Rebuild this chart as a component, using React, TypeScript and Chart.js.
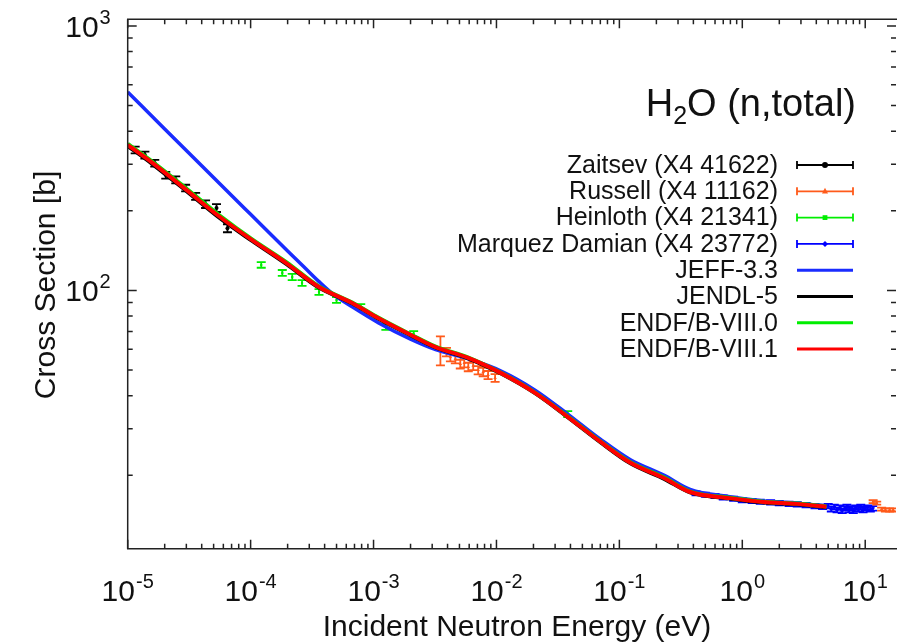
import React, { useEffect, useRef } from "react";
import { Chart, registerables } from "chart.js";

Chart.register(...registerables);

// ---- Evaluated libraries: incident energy (eV) and total cross section (b) ----
const evalEnergy = [1e-5, 1.6e-5, 3.0e-5, 5.6e-5, 1.03e-4, 1.95e-4, 3.6e-4, 6.7e-4, 1.1e-3, 2.0e-3, 3.2e-3, 5.9e-3, 1.09e-2, 2.06e-2, 3.8e-2, 7.0e-2, 0.123, 0.232, 0.376, 0.79, 1.49, 2.77, 4.83];
const endf81Sigma = [355, 303, 240, 190, 155, 127, 103, 89.7, 78.5, 68, 61.1, 55.6, 48.7, 41.0, 33.3, 26.8, 22.3, 19.5, 17.3, 16.4, 15.85, 15.6, 15.2];
const endf80Sigma = [358, 306, 243, 192, 156, 128, 103.5, 90, 78.8, 68.2, 61.3, 55.8, 48.8, 41.1, 33.4, 26.9, 22.4, 19.6, 17.35, 16.45, 15.9, 15.65, 15.25];
const jendl5Sigma = [352, 300, 238, 188, 154, 126, 102.5, 89.4, 78.2, 67.8, 60.9, 55.4, 48.5, 40.9, 33.2, 26.7, 22.2, 19.4, 17.25, 16.35, 15.8, 15.55, 15.15];

const jeffEnergy = [1e-5, 2e-5, 4e-5, 1e-4, 2e-4, 2.8e-4, 3.6e-4, 4.8e-4, 6.7e-4, 1.1e-3, 2.0e-3, 3.2e-3, 5.9e-3, 1.09e-2, 2.06e-2, 3.8e-2, 7.0e-2, 0.123, 0.232, 0.376, 0.79, 1.49, 2.77, 4.83];
const jeffSigma = [563, 408, 296, 194, 141, 121, 108, 96, 86.7, 75.4, 65.5, 59.8, 55.2, 49.6, 42.0, 34.1, 27.4, 22.9, 20.0, 17.7, 16.6, 16.0, 15.7, 15.3];

// ---- EXFOR measurements ----
const zaitsevEnergy = [1.15e-5, 1.38e-5, 1.66e-5, 2.04e-5, 2.46e-5, 2.96e-5, 3.57e-5, 4.30e-5, 5.28e-5, 6.48e-5];
const zaitsevSigma = [340, 325, 303, 273, 262, 244, 227, 212, 205, 172];
const zaitsevError = [10, 10, 9, 8, 8, 7, 7, 7, 7, 6];

const russellEnergy = [3.5e-3, 3.92e-3, 4.22e-3, 4.63e-3, 5.08e-3, 5.47e-3, 5.9e-3, 6.47e-3, 7.1e-3, 7.8e-3, 8.55e-3, 9.75e-3, 11.6, 12.4, 13.6, 14.6, 15.8, 16.9];
const russellSigma = [59.6, 58.5, 56.1, 55.1, 52.7, 53.2, 51.4, 51.9, 50.0, 49.2, 47.9, 46.7, 15.9, 15.7, 14.9, 14.8, 14.8, 14.8];
const russellError = [7.5, 2.2, 2.2, 2.1, 2.0, 2.0, 1.9, 1.9, 1.8, 1.8, 1.7, 1.6, 0.2, 0.2, 0.2, 0.2, 0.2, 0.2];

const heinlothEnergy = [1.22e-4, 1.81e-4, 2.18e-4, 2.62e-4, 3.6e-4, 5.0e-4, 7.87e-4, 1.26e-3, 2.12e-3, 3.8e-2];
const heinlothSigma = [124.9, 116.5, 112.5, 106.7, 98.7, 92.0, 86.6, 72.8, 68.5, 34.1];
const heinlothError = [3, 3, 3, 2.7, 2.5, 2.3, 2.2, 1.8, 1.7, 0.9];

const marquezEnergy = [0.42, 0.5, 0.6, 0.7, 0.85, 1.0, 1.2, 1.4, 1.7, 2.0, 2.4, 2.8, 3.3, 3.9, 4.5, 5.0, 5.3, 5.6, 5.9, 6.2, 6.5, 6.8, 7.1, 7.4, 7.7, 8.0, 8.4, 8.8, 9.2, 9.6, 10.0, 10.5, 11.0, 11.5];
const marquezSigma = [17.1, 16.9, 16.7, 16.5, 16.3, 16.1, 16.0, 15.9, 15.8, 15.7, 15.6, 15.55, 15.45, 15.3, 15.2, 15.3, 14.9, 15.2, 14.8, 15.1, 14.7, 15.0, 15.2, 14.8, 15.0, 14.7, 15.1, 14.9, 15.2, 14.8, 15.0, 15.1, 14.9, 15.0];
const marquezError = [0.3, 0.3, 0.3, 0.3, 0.3, 0.3, 0.3, 0.3, 0.3, 0.3, 0.3, 0.3, 0.3, 0.3, 0.3, 0.3, 0.3, 0.3, 0.3, 0.3, 0.3, 0.3, 0.3, 0.3, 0.3, 0.3, 0.3, 0.3, 0.3, 0.3, 0.3, 0.3, 0.3, 0.3];

// ---- Axis labels ----
const xTickExponents = [-5, -4, -3, -2, -1, 0, 1];
const yTickExponents = [2, 3];
const xTitle = "Incident Neutron Energy (eV)";
const yTitle = "Cross Section [b]";

const FONT = '"Liberation Sans", Arial, Helvetica, sans-serif';

type LegendItem = { label: string; color: string; kind: "err" | "line"; marker?: string };
const legendItems: LegendItem[] = [
  { label: "Zaitsev (X4 41622)", color: "#000000", kind: "err", marker: "circle" },
  { label: "Russell (X4 11162)", color: "#ff5a1a", kind: "err", marker: "triangle" },
  { label: "Heinloth (X4 21341)", color: "#00ee00", kind: "err", marker: "rect" },
  { label: "Marquez Damian (X4 23772)", color: "#0000ff", kind: "err", marker: "rectRot" },
  { label: "JEFF-3.3", color: "#1a2cff", kind: "line" },
  { label: "JENDL-5", color: "#000000", kind: "line" },
  { label: "ENDF/B-VIII.0", color: "#00ee00", kind: "line" },
  { label: "ENDF/B-VIII.1", color: "#ff0000", kind: "line" },
];

const pts = (xs: number[], ys: number[]) => xs.map((x, i) => ({ x, y: ys[i] }));

function drawPower(ctx: CanvasRenderingContext2D, exp: string, x: number, baseline: number, align: "center" | "right") {
  const baseFont = `30px ${FONT}`;
  const expFont = `20px ${FONT}`;
  ctx.font = baseFont;
  const wb = ctx.measureText("10").width;
  ctx.font = expFont;
  const we = ctx.measureText(exp).width;
  const total = wb + 1 + we;
  const x0 = align === "center" ? x - total / 2 : x - total;
  ctx.textAlign = "left";
  ctx.textBaseline = "alphabetic";
  ctx.font = baseFont;
  ctx.fillText("10", x0, baseline);
  ctx.font = expFont;
  ctx.fillText(exp, x0 + wb + 1, baseline - 13);
}

function drawMarker(ctx: CanvasRenderingContext2D, kind: string, x: number, y: number, r: number) {
  ctx.beginPath();
  if (kind === "circle") ctx.arc(x, y, r, 0, Math.PI * 2);
  else if (kind === "triangle") {
    ctx.moveTo(x, y - r * 1.2);
    ctx.lineTo(x + r, y + r * 0.7);
    ctx.lineTo(x - r, y + r * 0.7);
    ctx.closePath();
  } else if (kind === "rect") ctx.rect(x - r * 0.8, y - r * 0.8, r * 1.6, r * 1.6);
  else {
    ctx.moveTo(x, y - r);
    ctx.lineTo(x + r, y);
    ctx.lineTo(x, y + r);
    ctx.lineTo(x - r, y);
    ctx.closePath();
  }
  ctx.fill();
}

const framePlugin = {
  id: "gnuplotFrame",
  beforeDatasetsDraw(chart: any) {
    const { ctx, chartArea: ca } = chart;
    const xs = chart.scales.x;
    const ys = chart.scales.y;
    ctx.save();
    ctx.beginPath();
    ctx.rect(ca.left, ca.top, ca.right - ca.left, ca.bottom - ca.top);
    ctx.clip();
    chart.data.datasets.forEach((ds: any) => {
      if (!ds.errorBars) return;
      ctx.strokeStyle = ds.borderColor;
      ctx.lineWidth = 1.8;
      ds.data.forEach((p: any, i: number) => {
        const e = ds.errorBars[i];
        const px = xs.getPixelForValue(p.x);
        const yt = ys.getPixelForValue(p.y + e);
        const yb = ys.getPixelForValue(Math.max(p.y - e, 1e-9));
        ctx.beginPath();
        ctx.moveTo(px, yt);
        ctx.lineTo(px, yb);
        ctx.moveTo(px - 4.5, yt);
        ctx.lineTo(px + 4.5, yt);
        ctx.moveTo(px - 4.5, yb);
        ctx.lineTo(px + 4.5, yb);
        ctx.stroke();
      });
    });
    ctx.restore();
  },
  afterDraw(chart: any) {
    const { ctx, chartArea: ca } = chart;
    const xs = chart.scales.x;
    const ys = chart.scales.y;
    ctx.save();
    ctx.strokeStyle = "#222";
    ctx.lineWidth = 1.5;
    // frame
    ctx.beginPath();
    ctx.moveTo(ca.right + 1, ca.top);
    ctx.lineTo(ca.left, ca.top);
    ctx.lineTo(ca.left, ca.bottom);
    ctx.lineTo(ca.right + 1, ca.bottom);
    ctx.stroke();
    // log ticks, mirrored on opposite sides
    ctx.beginPath();
    for (let d = -5; d <= 1; d++) {
      for (let m = 1; m <= 9; m++) {
        const v = m * Math.pow(10, d);
        if (v < xs.min || v > xs.max) continue;
        const px = xs.getPixelForValue(v);
        const len = m === 1 ? 9 : 5;
        ctx.moveTo(px, ca.bottom);
        ctx.lineTo(px, ca.bottom - len);
        ctx.moveTo(px, ca.top);
        ctx.lineTo(px, ca.top + len);
      }
    }
    for (let d = 1; d <= 3; d++) {
      for (let m = 1; m <= 9; m++) {
        const v = m * Math.pow(10, d);
        if (v < ys.min || v > ys.max) continue;
        const py = ys.getPixelForValue(v);
        const len = m === 1 ? 9 : 5;
        ctx.moveTo(ca.left, py);
        ctx.lineTo(ca.left + len, py);
        ctx.moveTo(ca.right, py);
        ctx.lineTo(ca.right - len, py);
      }
    }
    ctx.stroke();

    // tick labels
    ctx.fillStyle = "#111";
    xTickExponents.forEach((e) => {
      drawPower(ctx, String(e), xs.getPixelForValue(Math.pow(10, e)), 601, "center");
    });
    yTickExponents.forEach((e) => {
      drawPower(ctx, String(e), ca.left - 17, ys.getPixelForValue(Math.pow(10, e)) + 11, "right");
    });

    // axis titles
    ctx.font = `30px ${FONT}`;
    ctx.textAlign = "center";
    ctx.textBaseline = "alphabetic";
    ctx.fillText(xTitle, 517, 636);
    ctx.save();
    ctx.translate(55, 285);
    ctx.rotate(-Math.PI / 2);
    ctx.fillText(yTitle, 0, 0);
    ctx.restore();

    // plot title with subscript
    const titleRight = 856;
    const titleBase = 116;
    const bigFont = `38px ${FONT}`;
    const subFont = `25px ${FONT}`;
    ctx.textAlign = "left";
    ctx.font = bigFont;
    const wH = ctx.measureText("H").width;
    const rest = "O (n,total)";
    const wRest = ctx.measureText(rest).width;
    ctx.font = subFont;
    const w2 = ctx.measureText("2").width;
    let tx = titleRight - (wH + w2 + wRest);
    ctx.font = bigFont;
    ctx.fillText("H", tx, titleBase);
    tx += wH;
    ctx.font = subFont;
    ctx.fillText("2", tx, titleBase + 8);
    tx += w2;
    ctx.font = bigFont;
    ctx.fillText(rest, tx, titleBase);

    // key
    const keyTextRight = 778;
    const s0 = 797;
    const s1 = 853;
    const rowTop = 165;
    const rowGap = 26.3;
    ctx.font = `25px ${FONT}`;
    ctx.textAlign = "right";
    ctx.textBaseline = "middle";
    legendItems.forEach((it, i) => {
      const y = rowTop + i * rowGap;
      ctx.fillStyle = "#111";
      ctx.fillText(it.label, keyTextRight, y + 1);
      ctx.strokeStyle = it.color;
      ctx.fillStyle = it.color;
      if (it.kind === "err") {
        ctx.lineWidth = 1.8;
        ctx.beginPath();
        ctx.moveTo(s0, y);
        ctx.lineTo(s1, y);
        ctx.moveTo(s0, y - 4);
        ctx.lineTo(s0, y + 4);
        ctx.moveTo(s1, y - 4);
        ctx.lineTo(s1, y + 4);
        ctx.stroke();
        drawMarker(ctx, it.marker || "circle", (s0 + s1) / 2, y, 3);
      } else {
        ctx.lineWidth = 3;
        ctx.beginPath();
        ctx.moveTo(s0, y);
        ctx.lineTo(s1, y);
        ctx.stroke();
      }
    });
    ctx.restore();
  },
};

export default function App() {
  const canvasRef = useRef<HTMLCanvasElement | null>(null);

  useEffect(() => {
    const canvas = canvasRef.current;
    if (!canvas) return;
    const curve = (label: string, xs: number[], ys: number[], color: string, width: number) => ({
      label,
      data: pts(xs, ys),
      showLine: true,
      borderColor: color,
      backgroundColor: color,
      borderWidth: width,
      pointRadius: 0,
      cubicInterpolationMode: "monotone" as const,
    });
    const measured = (label: string, xs: number[], ys: number[], es: number[], color: string, style: string, r: number) => ({
      label,
      data: pts(xs, ys),
      errorBars: es,
      showLine: false,
      borderColor: color,
      backgroundColor: color,
      pointStyle: style,
      pointRadius: r,
      pointBorderWidth: 0,
    });

    // earlier entries are painted last, so the red evaluation sits on top
    const datasets: any[] = [
      curve("ENDF/B-VIII.1", evalEnergy, endf81Sigma, "#ff0000", 4),
      curve("ENDF/B-VIII.0", evalEnergy, endf80Sigma, "#00ee00", 4),
      curve("JENDL-5", evalEnergy, jendl5Sigma, "#000000", 4),
      curve("JEFF-3.3", jeffEnergy, jeffSigma, "#1a2cff", 3.5),
      measured("Marquez Damian (X4 23772)", marquezEnergy, marquezSigma, marquezError, "#0000ff", "rectRot", 2),
      measured("Heinloth (X4 21341)", heinlothEnergy, heinlothSigma, heinlothError, "#00ee00", "rect", 1.5),
      measured("Russell (X4 11162)", russellEnergy, russellSigma, russellError, "#ff5a1a", "triangle", 2),
      measured("Zaitsev (X4 41622)", zaitsevEnergy, zaitsevSigma, zaitsevError, "#000000", "circle", 2),
    ];

    const chart = new Chart(canvas, {
      type: "scatter",
      data: { datasets },
      options: {
        animation: false,
        responsive: false,
        devicePixelRatio: 1,
        layout: { padding: { left: 127.7, top: 19.3, right: 0, bottom: 94.3 } },
        scales: {
          x: { type: "logarithmic", min: 1e-5, max: 17.8, display: false },
          y: { type: "logarithmic", min: 10.56, max: 1060, display: false },
        },
        plugins: { legend: { display: false }, tooltip: { enabled: false } },
      },
      plugins: [framePlugin],
    } as any);
    return () => chart.destroy();
  }, []);

  return (
    <div style={{ position: "fixed", left: 0, top: 0, width: 900, height: 643, background: "#ffffff" }}>
      <canvas ref={canvasRef} width={900} height={643} style={{ display: "block", width: 900, height: 643 }} />
    </div>
  );
}
